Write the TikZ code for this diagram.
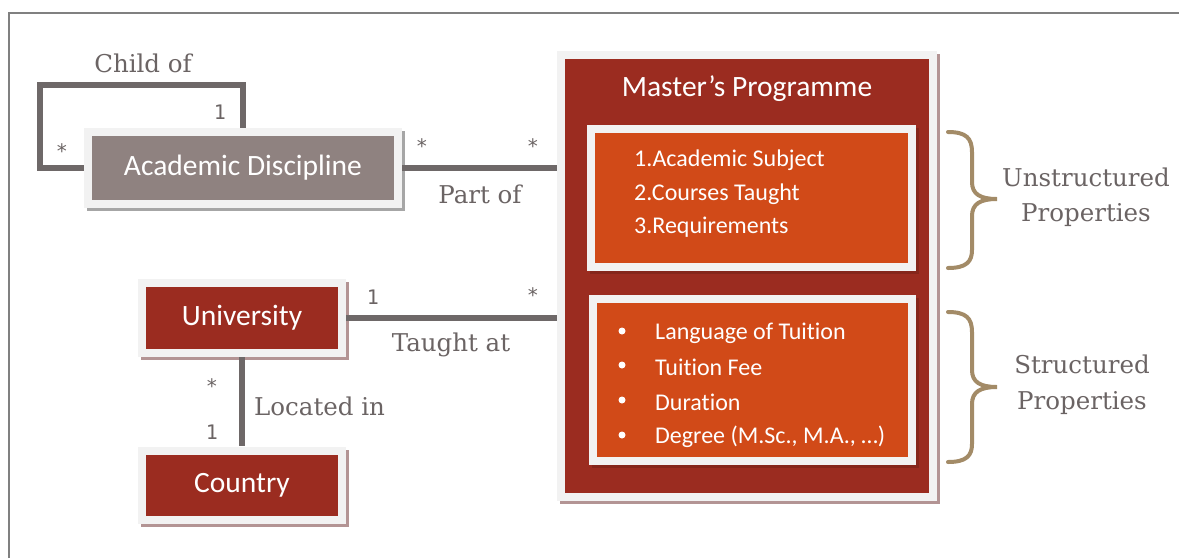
\documentclass[tikz,border=0pt]{standalone}
\usepackage{fontspec}
\setmainfont[Ligatures=NoCommon]{Carlito}
\newfontfamily\lblfont{DejaVu Serif}
\newfontfamily\mulfont{DejaVu Sans Mono}
\usetikzlibrary{shadows}
\definecolor{lightf}{HTML}{F2F2F2}
\definecolor{mauve}{HTML}{8F8280}
\definecolor{dred}{HTML}{9B2C20}
\definecolor{orng}{HTML}{D14A18}
\definecolor{conn}{HTML}{6E6868}
\definecolor{txtg}{HTML}{6B6464}
\definecolor{tan}{HTML}{A38B67}
\definecolor{frm}{HTML}{808080}
\definecolor{shgray}{HTML}{A6A6A6}
\definecolor{shpink}{HTML}{B39494}
\definecolor{shdark}{HTML}{85261B}
\begin{document}
\begin{tikzpicture}[x=1pt,y=-1pt,
  entity/.style={draw=none, fill=lightf, inner sep=0pt, text=white,
    font=\fontsize{29.5}{32}\selectfont},
  inset/.style={path picture={\fill[#1]
    ([shift={(8,8)}]path picture bounding box.north west) rectangle
    ([shift={(-8,-8)}]path picture bounding box.south east);}},
  shad/.style={drop shadow={shadow xshift=3pt, shadow yshift=-3pt, fill=#1, opacity=1}},
  connector/.style={draw=conn, line width=6pt},
  lbl/.style={text=txtg, font=\lblfont\fontsize{24.5}{28}\selectfont, inner sep=0pt},
  mult/.style={text=txtg, font=\mulfont\fontsize{20}{22}\selectfont, inner sep=0pt},
  item/.style={text=white, font=\fontsize{24}{28}\selectfont, inner sep=0pt, anchor=west},
  bullet/.style={circle, fill=white, inner sep=0pt, minimum size=7pt},
  bracec/.style={draw=tan, line width=4pt, line cap=round}
]
\useasboundingbox (0,0) rectangle (1179,558);
\fill[white] (0,0) rectangle (1179,558);
% frame
\draw[frm, line width=2pt] (9,558) -- (9,13) -- (1179,13);

\coordinate (loopc) at (40,85);
% entities
\node[entity, inset=mauve, shad=shgray, minimum width=318pt, minimum height=80pt] (ad) at (243,168) {Academic Discipline};
\node[entity, inset=dred, shad=shpink, minimum width=208pt, minimum height=78pt] (uni) at (242,318) {University};
\node[entity, inset=dred, shad=shpink, minimum width=208pt, minimum height=77pt] (country) at (242,485) {Country};
\node[entity, inset=dred, shad=shpink, minimum width=380pt, minimum height=450pt] (mp) at (747,276) {};
\node[text=white, font=\fontsize{29.5}{32}\selectfont, inner sep=0pt] (mptitle) at (747,89) {Master’s Programme};
\node[entity, inset=orng, shad=shdark, minimum width=329pt, minimum height=146pt] (ubox) at (751.5,198) {};
\node[entity, inset=orng, shad=shdark, minimum width=327pt, minimum height=170pt] (sbox) at (752.5,380) {};

% connectors
\draw[connector] (ad.west) -| (loopc) -| (ad.north);
\draw[connector] (ad.east) -- (ad.east -| mp.west);
\draw[connector] (uni.east) -- (uni.east -| mp.west);
\draw[connector] (uni.south) -- (country.north);

% list items
\node[item] (u1) at (634,160) {1.Academic Subject};
\node[item] (u2) at (634,194) {2.Courses Taught};
\node[item] (u3) at (634,227) {3.Requirements};
\foreach \y/\t [count=\i] in {331/Language of Tuition, 365/Tuition Fee, 400/Duration, 435/{Degree (M.Sc., M.A., …)}}{
  \node[bullet] (b\i) at (622,\y) {};
  \node[item] (s\i) at (655,\y+2) {\t};
}

% multiplicities & labels
\node[lbl] (childof) at (143,63) {Child of};
\node[mult] (m1) at (220,112) {1};
\node[mult] (m2) at (62,151) {*};
\node[mult] (m3) at (422,146) {*};
\node[mult] (m4) at (533,146) {*};
\node[lbl] (partof) at (480,194) {Part of};
\node[mult] (m5) at (373,297) {1};
\node[mult] (m6) at (533,295) {*};
\node[lbl] (taught) at (451,345) {Taught at};
\node[mult] (m7) at (212,386) {*};
\node[mult] (m8) at (212,432) {1};
\node[lbl, anchor=west] (located) at (254,406) {Located in};

% braces
\draw[bracec] (948,132) .. controls (966,132) and (972,138) .. (972,152) -- (972,182)
  .. controls (972,194) and (980,199) .. (997,199)
  .. controls (980,199) and (972,204) .. (972,216) -- (972,250)
  .. controls (972,262) and (966,268) .. (948,268);
\draw[bracec] (948,312) .. controls (966,312) and (972,318) .. (972,332) -- (972,370)
  .. controls (972,382) and (980,387) .. (997,387)
  .. controls (980,387) and (972,392) .. (972,404) -- (972,444)
  .. controls (972,456) and (966,462) .. (948,462);
\node[lbl] (unstr) at (1086,177) {Unstructured};
\node[lbl] (prop1) at (1086,215) {Properties};
\node[lbl] (str) at (1082,364) {Structured};
\node[lbl] (prop2) at (1082,403) {Properties};
\end{tikzpicture}
\end{document}
